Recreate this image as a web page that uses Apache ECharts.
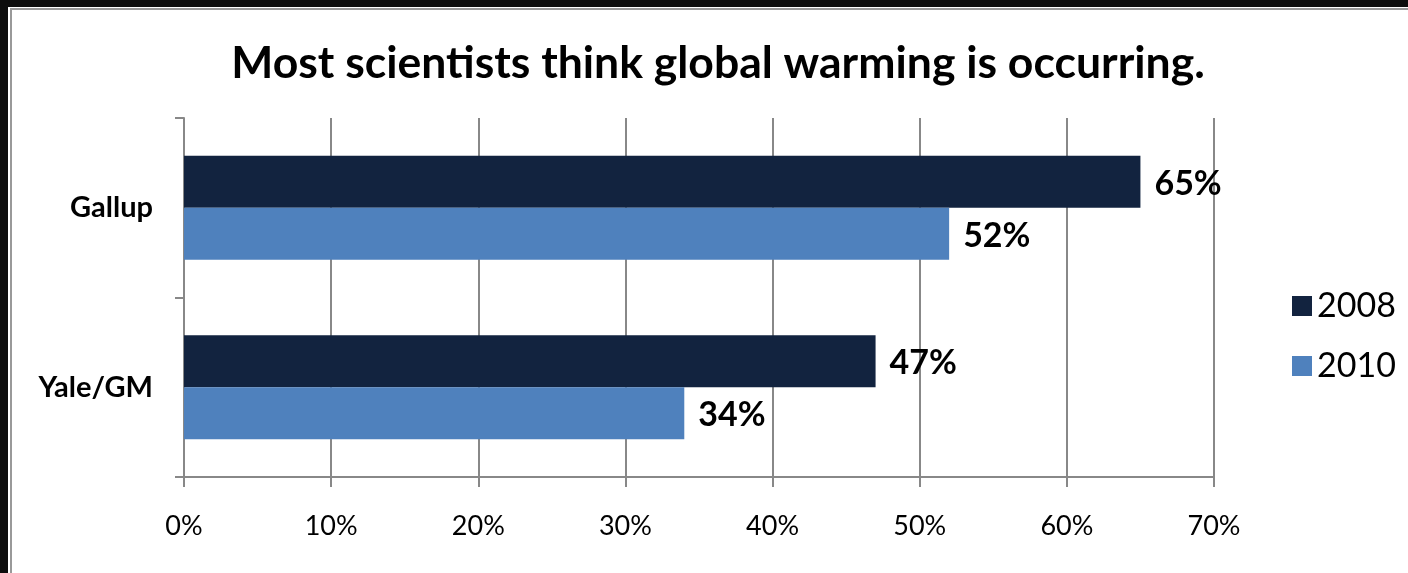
<!DOCTYPE html>
<html>
<head>
<meta charset="utf-8">
<script src="https://cdn.jsdelivr.net/npm/echarts@6/dist/echarts.min.js"></script>
<style>
html,body{margin:0;padding:0;background:#fff;}
#c{width:1408px;height:573px;}
</style>
</head>
<body>
<div id="c"></div>
<script>
const titleText = 'Most scientists think global warming is occurring.';
const categories = ['Gallup', 'Yale/GM'];
const seriesNames = ['2008', '2010'];
const values2008 = [65, 47];
const values2010 = [52, 34];
const xTicks = { min: 0, max: 70, interval: 10 };

const FONT = 'Lato, "Open Sans", sans-serif';
const chart = echarts.init(document.getElementById('c'), null, { renderer: 'canvas' });
const labelStyle = {
  show: true, position: 'right', distance: 14, offset: [0, 2],
  formatter: '{c}%', fontFamily: FONT, fontWeight: 'bold', fontSize: 34, color: '#000'
};
chart.setOption({
  backgroundColor: '#fff',
  animation: false,
  graphic: [
    { type: 'rect', shape: { x: 0, y: 0, width: 1408, height: 7 }, style: { fill: '#0d0d0d' }, z: 100 },
    { type: 'rect', shape: { x: 0, y: 0, width: 8, height: 573 }, style: { fill: '#0d0d0d' }, z: 100 },
    { type: 'rect', shape: { x: 10, y: 8, width: 1398, height: 2 }, style: { fill: '#999' }, z: 100 },
    { type: 'rect', shape: { x: 10, y: 8, width: 2, height: 565 }, style: { fill: '#999' }, z: 100 }
  ],
  title: {
    text: titleText, left: 713, top: 36, textAlign: 'center',
    textStyle: { fontFamily: FONT, fontWeight: 'bold', fontSize: 44.5, color: '#000' }
  },
  legend: {
    orient: 'vertical', left: 1287, top: 284,
    itemWidth: 20, itemHeight: 20, itemGap: 26, icon: 'rect',
    textStyle: { fontFamily: FONT, fontSize: 34, color: '#000', lineHeight: 34 },
    data: seriesNames
  },
  grid: { left: 184, right: 194, top: 118, bottom: 96, containLabel: false },
  xAxis: {
    type: 'value', min: xTicks.min, max: xTicks.max, interval: xTicks.interval,
    axisLine: { show: true, lineStyle: { color: '#888', width: 2 } },
    axisTick: { show: true, length: 10, lineStyle: { color: '#888', width: 2 } },
    splitLine: { show: true, lineStyle: { color: '#888', width: 2 } },
    axisLabel: { formatter: '{value}%', margin: 36, fontFamily: FONT, fontSize: 27, color: '#000' }
  },
  yAxis: {
    type: 'category', data: categories, inverse: true,
    axisLine: { show: true, lineStyle: { color: '#888', width: 2 } },
    axisTick: { show: true, length: 9, lineStyle: { color: '#888', width: 2 } },
    axisLabel: { margin: 31, fontFamily: FONT, fontWeight: 'bold', fontSize: 29, color: '#000' }
  },
  series: [
    { name: seriesNames[0], type: 'bar', data: values2008, barGap: '0%', barCategoryGap: '42%',
      itemStyle: { color: '#12233f' }, label: labelStyle },
    { name: seriesNames[1], type: 'bar', data: values2010, barGap: '0%', barCategoryGap: '42%',
      itemStyle: { color: '#4f81bd' }, label: labelStyle }
  ]
});
</script>
</body>
</html>
